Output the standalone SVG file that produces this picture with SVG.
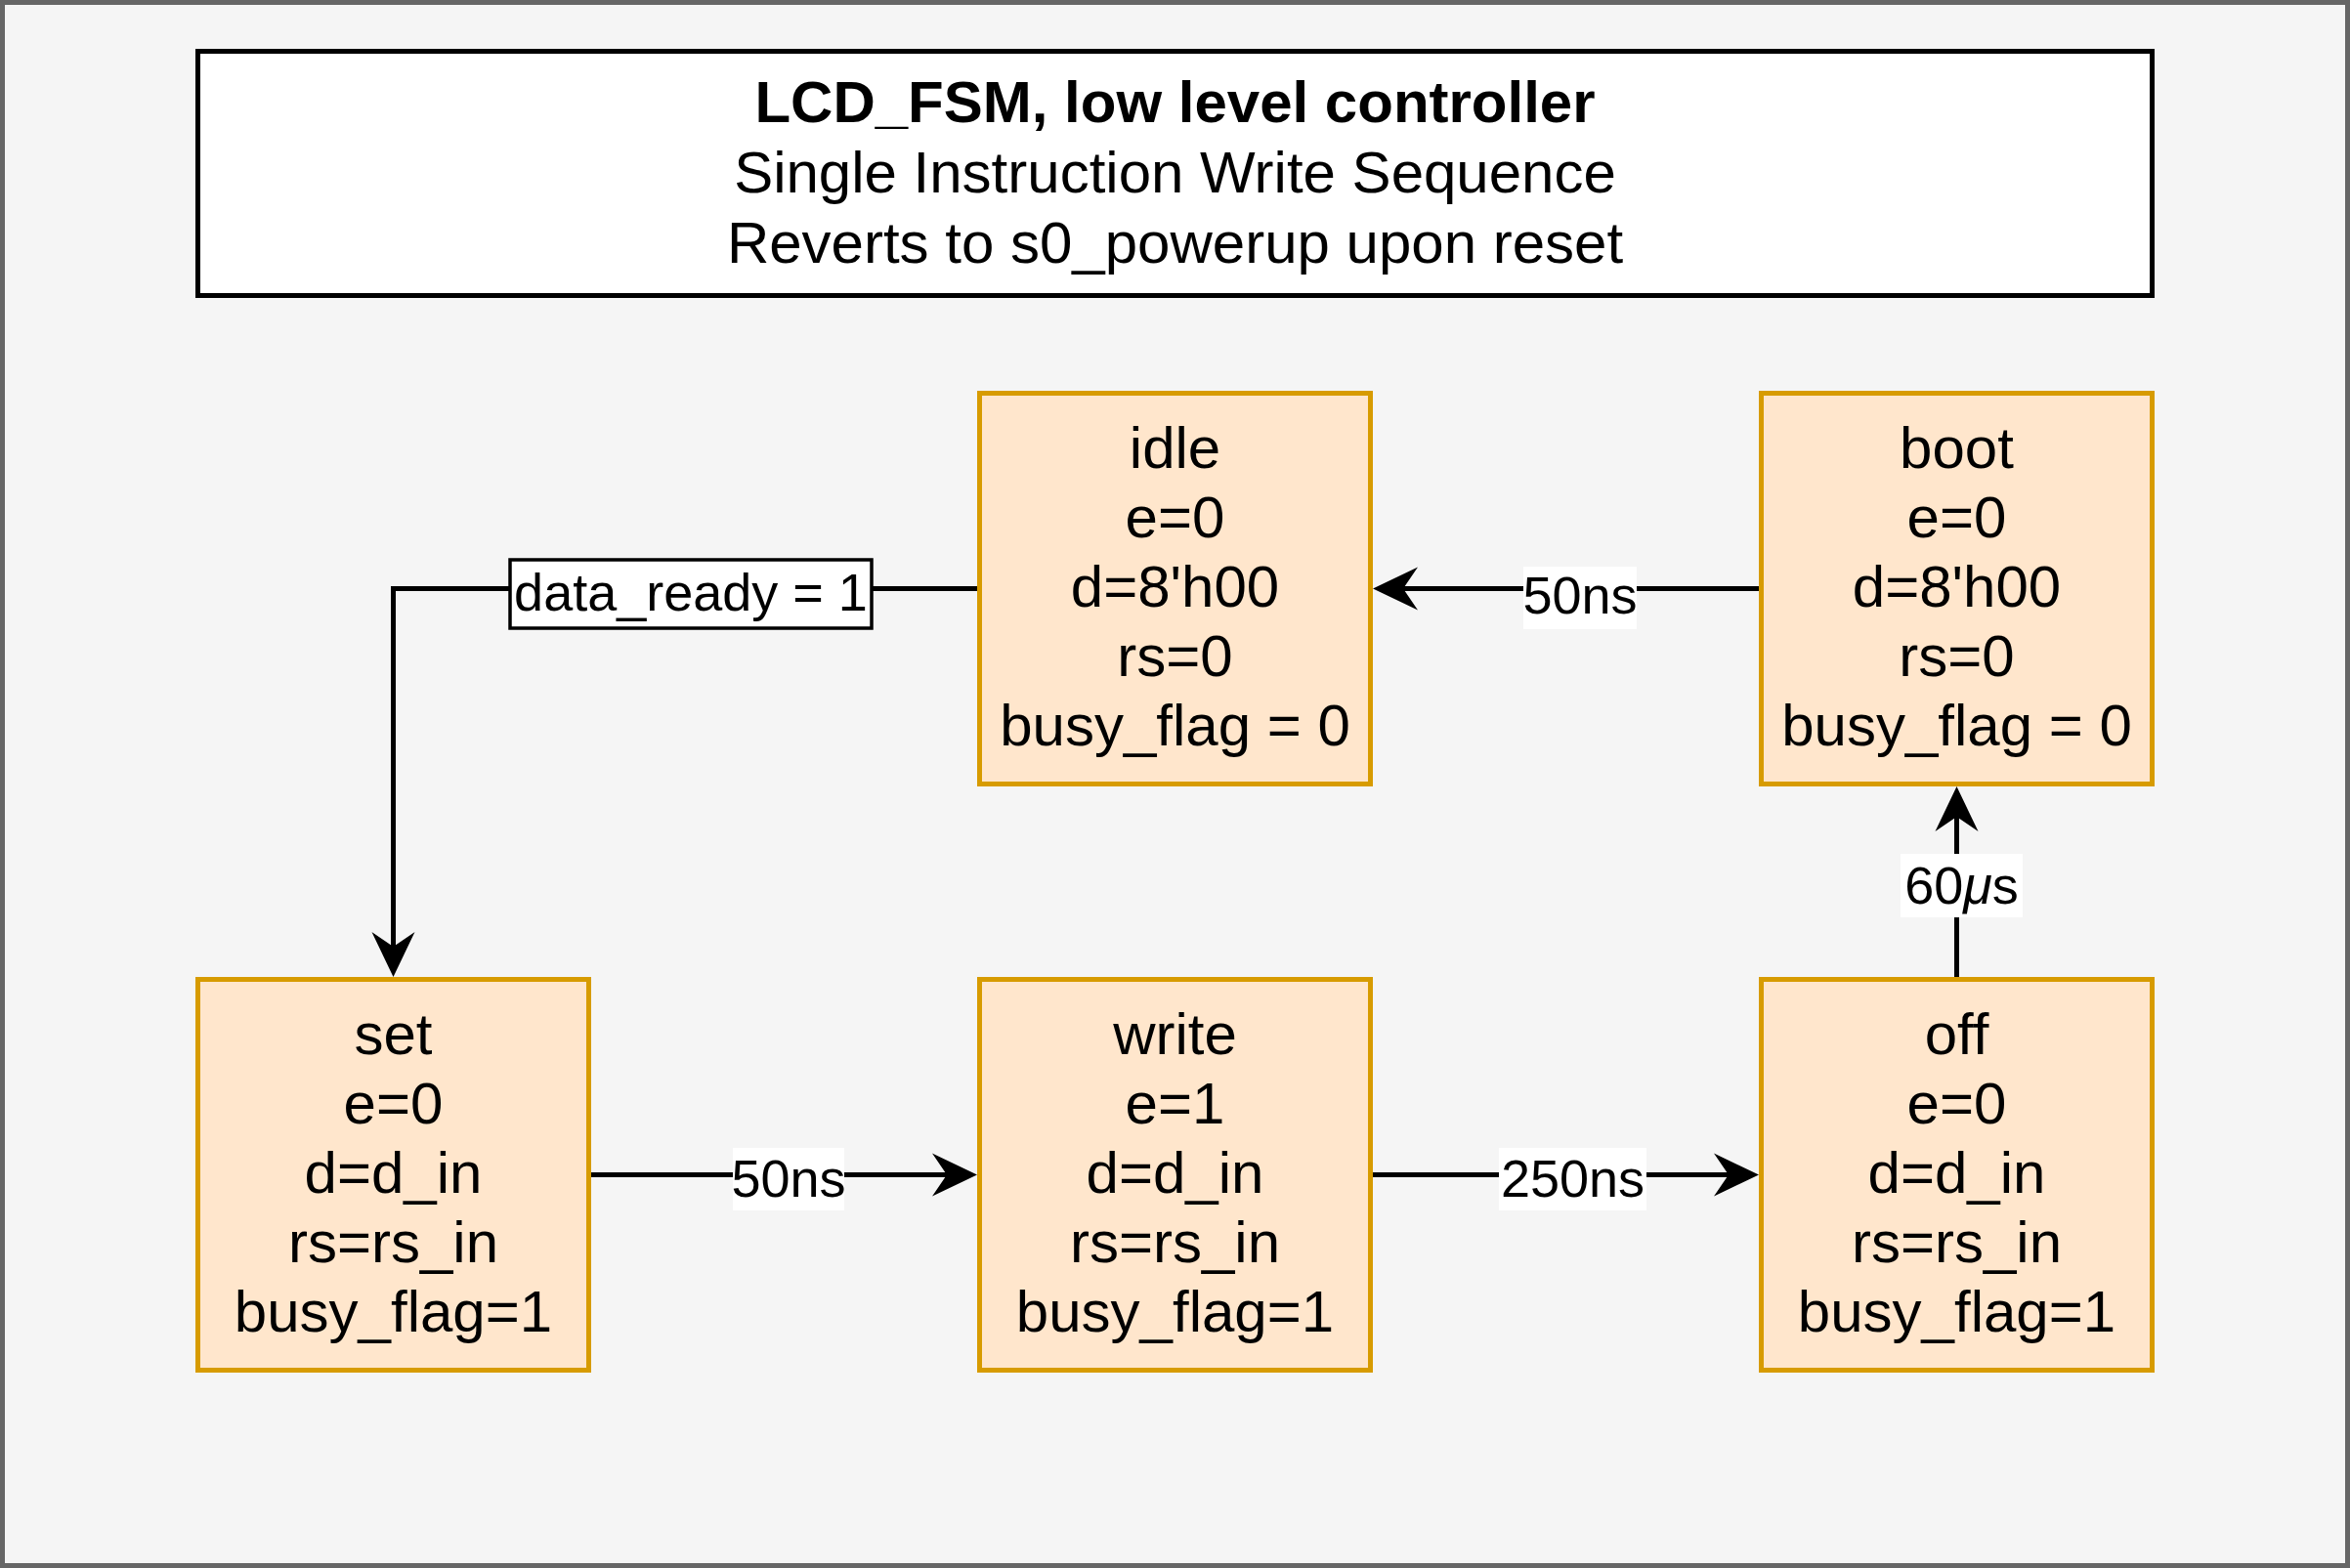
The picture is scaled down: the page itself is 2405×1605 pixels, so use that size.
<svg xmlns="http://www.w3.org/2000/svg" width="2405" height="1605" viewBox="0 0 2405 1605">
<style>
text{font-family:"Liberation Sans",Arial,Helvetica,sans-serif;fill:#000;text-anchor:middle}
.node rect{fill:#ffe6cc;stroke:#d79b00;stroke-width:5}
.node text{font-size:60px}
.edge{fill:none;stroke:#000;stroke-width:5}
.lbl{fill:#fff}
.lt{font-size:54px}
</style>
<defs>
<marker id="arr" markerUnits="userSpaceOnUse" markerWidth="46" markerHeight="44" viewBox="0 0 46 44" refX="15" refY="22" orient="auto" overflow="visible">
<path d="M0,0 L46,22 L0,44 L15,22 Z" fill="#000"/>
</marker>
</defs>
<rect x="2.5" y="2.5" width="2400" height="1600" fill="#f5f5f5" stroke="#666666" stroke-width="5"/>
<g id="title">
<rect x="202.5" y="52.5" width="2000" height="250" fill="#ffffff" stroke="#000" stroke-width="5"/>
<text x="1202.5" y="125" font-size="60" font-weight="bold">LCD_FSM, low level controller</text>
<text x="1202.5" y="197" font-size="60">Single Instruction Write Sequence</text>
<text x="1202.5" y="269" font-size="60">Reverts to s0_powerup upon reset</text>
</g>
<g id="connectors">
<path class="edge" d="M1800,602.5 L1436,602.5" marker-end="url(#arr)"/>
<path class="edge" d="M1000,602.5 L402.5,602.5 L402.5,969" marker-end="url(#arr)"/>
<path class="edge" d="M605,1202.5 L969,1202.5" marker-end="url(#arr)"/>
<path class="edge" d="M1405,1202.5 L1769,1202.5" marker-end="url(#arr)"/>
<path class="edge" d="M2002.5,1000 L2002.5,836" marker-end="url(#arr)"/>
<rect class="lbl" x="1559" y="580" width="116" height="64"/>
<text class="lt" x="1617" y="628">50ns</text>
<rect x="522" y="573" width="370" height="70" fill="#fff" stroke="#000" stroke-width="3.5"/>
<text class="lt" x="707" y="625">data_ready = 1</text>
<rect class="lbl" x="750" y="1175" width="114" height="64"/>
<text class="lt" x="807" y="1225">50ns</text>
<rect class="lbl" x="1534" y="1175" width="151" height="64"/>
<text class="lt" x="1609.5" y="1225">250ns</text>
<rect class="lbl" x="1945" y="874" width="125" height="65"/>
<text class="lt" x="2007.5" y="925">60<tspan font-style="italic">μ</tspan>s</text>
</g>
<g id="idle" class="node">
<rect x="1002.5" y="402.5" width="400" height="400"/>
<text x="1202.5" y="479">idle</text>
<text x="1202.5" y="550">e=0</text>
<text x="1202.5" y="621">d=8'h00</text>
<text x="1202.5" y="692">rs=0</text>
<text x="1202.5" y="763">busy_flag = 0</text>
</g>
<g id="boot" class="node">
<rect x="1802.5" y="402.5" width="400" height="400"/>
<text x="2002.5" y="479">boot</text>
<text x="2002.5" y="550">e=0</text>
<text x="2002.5" y="621">d=8'h00</text>
<text x="2002.5" y="692">rs=0</text>
<text x="2002.5" y="763">busy_flag = 0</text>
</g>
<g id="set" class="node">
<rect x="202.5" y="1002.5" width="400" height="400"/>
<text x="402.5" y="1079">set</text>
<text x="402.5" y="1150">e=0</text>
<text x="402.5" y="1221">d=d_in</text>
<text x="402.5" y="1292">rs=rs_in</text>
<text x="402.5" y="1363">busy_flag=1</text>
</g>
<g id="write" class="node">
<rect x="1002.5" y="1002.5" width="400" height="400"/>
<text x="1202.5" y="1079">write</text>
<text x="1202.5" y="1150">e=1</text>
<text x="1202.5" y="1221">d=d_in</text>
<text x="1202.5" y="1292">rs=rs_in</text>
<text x="1202.5" y="1363">busy_flag=1</text>
</g>
<g id="off" class="node">
<rect x="1802.5" y="1002.5" width="400" height="400"/>
<text x="2002.5" y="1079">off</text>
<text x="2002.5" y="1150">e=0</text>
<text x="2002.5" y="1221">d=d_in</text>
<text x="2002.5" y="1292">rs=rs_in</text>
<text x="2002.5" y="1363">busy_flag=1</text>
</g>
</svg>
